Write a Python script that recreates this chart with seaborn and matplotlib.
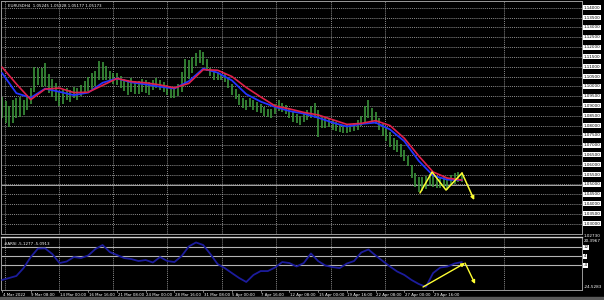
import numpy as np
import pandas as pd
import matplotlib
matplotlib.use("Agg")
import matplotlib.pyplot as plt
import seaborn as sns
from matplotlib.transforms import blended_transform_factory
from matplotlib.patches import Rectangle

# ---------------- data ----------------
# H4 bars, sampled every 2 bars
bar_high = [1.0945, 1.0925, 1.0899, 1.0930, 1.0940, 1.0945, 1.0930, 1.0956, 1.0991, 1.1098,
            1.1093, 1.1093, 1.1119, 1.1063, 1.1037, 1.1017, 1.0976, 1.0981, 1.0991, 1.0981,
            1.0996, 1.0991, 1.1007, 1.1027, 1.1047, 1.1068, 1.1078, 1.1129, 1.1124, 1.1103,
            1.1078, 1.1068, 1.1068, 1.1052, 1.1037, 1.1032, 1.1042, 1.1027, 1.1027, 1.1037,
            1.1032, 1.1022, 1.1032, 1.1042, 1.1032, 1.1022, 1.1007, 1.0996, 1.0991, 1.1012,
            1.1073, 1.1139, 1.1134, 1.1149, 1.1170, 1.1185, 1.1175, 1.1139, 1.1093, 1.1073,
            1.1068, 1.1063, 1.1063, 1.1047, 1.1012, 1.0986, 1.0961, 1.0940, 1.0930, 1.0940,
            1.0930, 1.0920, 1.0910, 1.0894, 1.0884, 1.0884, 1.0910, 1.0930, 1.0915, 1.0905,
            1.0889, 1.0869, 1.0859, 1.0848, 1.0869, 1.0879, 1.0899, 1.0915, 1.0879, 1.0843,
            1.0838, 1.0833, 1.0828, 1.0818, 1.0808, 1.0797, 1.0803, 1.0808, 1.0813, 1.0828,
            1.0848, 1.0899, 1.0930, 1.0889, 1.0869, 1.0838, 1.0808, 1.0787, 1.0767, 1.0736,
            1.0726, 1.0706, 1.0675, 1.0644, 1.0599, 1.0558, 1.0537, 1.0537, 1.0542, 1.0553,
            1.0548, 1.0542, 1.0532, 1.0542, 1.0532, 1.0548, 1.0558, 1.0563, 1.0553]
bar_low = [1.0838, 1.0813, 1.0792, 1.0813, 1.0838, 1.0843, 1.0854, 1.0879, 1.0910, 1.0971,
           1.1007, 1.0996, 1.1001, 1.0966, 1.0945, 1.0925, 1.0899, 1.0910, 1.0930, 1.0920,
           1.0940, 1.0930, 1.0950, 1.0966, 1.0976, 1.0986, 1.1001, 1.1032, 1.1032, 1.1032,
           1.1022, 1.1012, 1.1007, 1.0991, 1.0976, 1.0956, 1.0971, 1.0961, 1.0961, 1.0971,
           1.0966, 1.0956, 1.0981, 1.0991, 1.0981, 1.0971, 1.0956, 1.0940, 1.0940, 1.0950,
           1.0971, 1.1012, 1.1037, 1.1068, 1.1103, 1.1119, 1.1109, 1.1078, 1.1052, 1.1032,
           1.1032, 1.1032, 1.1022, 1.0991, 1.0956, 1.0935, 1.0905, 1.0889, 1.0879, 1.0894,
           1.0879, 1.0869, 1.0864, 1.0848, 1.0843, 1.0838, 1.0859, 1.0874, 1.0869, 1.0859,
           1.0838, 1.0818, 1.0813, 1.0803, 1.0818, 1.0828, 1.0838, 1.0838, 1.0741, 1.0787,
           1.0787, 1.0792, 1.0777, 1.0772, 1.0767, 1.0762, 1.0762, 1.0767, 1.0772, 1.0777,
           1.0797, 1.0818, 1.0838, 1.0823, 1.0808, 1.0777, 1.0746, 1.0721, 1.0690, 1.0675,
           1.0665, 1.0639, 1.0619, 1.0593, 1.0532, 1.0486, 1.0461, 1.0466, 1.0476, 1.0491,
           1.0486, 1.0481, 1.0481, 1.0486, 1.0471, 1.0491, 1.0502, 1.0512, 1.0512]

# moving averages, sampled every 8 bars
ma_fast = [1.1068, 1.0965, 1.0942, 1.0988, 1.0972, 1.0955, 1.0968, 1.1018, 1.1040, 1.1020,
           1.1010, 1.0998, 1.0989, 1.1026, 1.1090, 1.1070, 1.1030, 1.0960, 1.0922, 1.0895,
           1.0874, 1.0861, 1.0840, 1.0815, 1.0795, 1.0808, 1.0815, 1.0780, 1.0720, 1.0620,
           1.0545, 1.0524, 1.0522]
ma_slow = [1.1098, 1.1012, 1.0932, 1.0986, 1.0991, 1.0968, 1.0970, 1.1005, 1.1040, 1.1024,
           1.1018, 1.1007, 1.0992, 1.1015, 1.1085, 1.1082, 1.1050, 1.0994, 1.0946, 1.0900,
           1.0885, 1.0867, 1.0854, 1.0830, 1.0806, 1.0811, 1.0825, 1.0800, 1.0735, 1.0645,
           1.0563, 1.0532, 1.0522]

# oscillator (#ARSI), sampled every 4 bars
osc = [-17.3, -15.5, -13.7, -6.6, 3.3, 10.9, 11.1, 6.0, -2.1, -0.7,
       3.3, 2.4, 4.7, 10.5, 14.1, 7.8, 5.1, 2.4, 1.5, -0.3,
       0.6, -1.6, 3.3, -0.3, -1.2, 4.2, 12.8, 16.4, 14.1, 6.0,
       -3.0, -6.6, -11.1, -15.5, -19.1, -12.8, -9.3, -9.3, -6.1, -1.2,
       -2.1, -5.2, -2.1, 6.5, -0.3, -4.3, -5.7, -6.6, -2.5, -0.3,
       7.4, 10.1, 4.7, -0.3, -5.2, -9.7, -12.8, -17.3, -20.9, -23.5,
       -11.1, -6.1, -5.2, -2.5, -1.2]
osc_levels = [12, 4, -4]
osc_level_labels = ["12", "4", "-4"]

# hand-drawn yellow lines
yel_bar = [232.7, 239.4, 247.2, 256.1, 262.9]
yel_price = [1.0456, 1.0563, 1.0471, 1.0558, 1.0420]
yel_sub_bar = [234.4, 257.8, 263.4]
yel_sub_val = [-23.6, -2.1, -20.9]

bid_price = 1.0497
header = "EURUSDH4  1.05245 1.05328 1.05177 1.05173"
sub_header = "#ARSI -5.1277 -5.0913"
sub_max_label = "20.3967"
sub_min_label = "-24.5283"
main_min_label = "1.02730"

time_labels = ["4 Mar 2022", "9 Mar 08:00", "14 Mar 00:00", "16 Mar 16:00", "21 Mar 08:00",
               "24 Mar 00:00", "28 Mar 16:00", "31 Mar 08:00", "5 Apr 00:00", "7 Apr 16:00",
               "12 Apr 08:00", "15 Apr 00:00", "19 Apr 16:00", "22 Apr 08:00", "27 Apr 00:00",
               "29 Apr 16:00"]

# ---------------- style ----------------
sns.set_style("dark", rc={"axes.facecolor": "black", "figure.facecolor": "black"})
plt.rcParams["font.family"] = ["DejaVu Sans"]

W, H = 604, 300
fig = plt.figure(figsize=(W / 100, H / 100), dpi=100)
fig.patch.set_facecolor("black")

def fbox(x0, y0, x1, y1):
    return [x0 / W, 1 - y1 / H, (x1 - x0) / W, (y1 - y0) / H]

ax = fig.add_axes(fbox(1, 1, 582, 234))
axs = fig.add_axes(fbox(1, 237, 582, 290), sharex=ax)

XL = (-0.56, 322.9)
GREEN = "#3d9a3d"
BLUE = "#2233ff"
RED = "#e0204a"
YEL = "#ffff33"
GRID = "#bdbdbd"

bar_idx = np.arange(len(bar_high)) * 2
ma_idx = np.arange(len(ma_fast)) * 8
osc_idx = np.arange(len(osc)) * 4
df_ma = pd.DataFrame({"bar": ma_idx, "fast": ma_fast, "slow": ma_slow})
df_osc = pd.DataFrame({"bar": osc_idx, "osc": osc})

vgrid = [1.7, 31.7, 61.8, 91.9, 122.5, 152.6, 183.2, 213.2, 279.5]
hgrid = np.round(np.arange(1.030, 1.1401, 0.005), 3)

for a in (ax, axs):
    a.set_facecolor("black")
    a.set_xlim(*XL)
    a.tick_params(left=False, bottom=False, labelleft=False, labelbottom=False)
    a.grid(False)
    for s in a.spines.values():
        s.set_color("#9a9a9a")
        s.set_linewidth(0.7)
    for v in vgrid:
        a.axvline(v, color=GRID, lw=0.5, ls=(0, (1.5, 1.5)), zorder=0)

ax.set_ylim(1.0247, 1.1435)
for p in hgrid:
    ax.axhline(p, color=GRID, lw=0.5, ls=(0, (1.5, 1.5)), zorder=0)

# price bars
ax.vlines(bar_idx, bar_low, bar_high, color=GREEN, lw=1.15, zorder=2)
ax.axhline(bid_price, color="#a8a8a8", lw=0.7, zorder=1)

sns.lineplot(data=df_ma, x="bar", y="fast", ax=ax, color=BLUE, lw=1.3,
             estimator=None, sort=False, zorder=3)
sns.lineplot(data=df_ma, x="bar", y="slow", ax=ax, color=RED, lw=1.2,
             estimator=None, sort=False, zorder=4)

ax.plot(yel_bar[:-1], yel_price[:-1], color=YEL, lw=1.1, zorder=5)
ax.annotate("", xy=(yel_bar[-1], yel_price[-1]), xytext=(yel_bar[-2], yel_price[-2]),
            arrowprops=dict(arrowstyle="-|>", color=YEL, lw=1.1, mutation_scale=5,
                            shrinkA=0, shrinkB=0), zorder=5)
ax.set_xlabel("")
ax.set_ylabel("")

# sub window
axs.set_ylim(-26.3, 21.3)
for lv in osc_levels:
    axs.axhline(lv, color="#b4b4b4", lw=0.8, zorder=1)
sns.lineplot(data=df_osc, x="bar", y="osc", ax=axs, color="#1c1c9c", lw=1.3,
             estimator=None, sort=False, zorder=3)
axs.annotate("", xy=(yel_sub_bar[1], yel_sub_val[1]), xytext=(yel_sub_bar[0], yel_sub_val[0]),
             arrowprops=dict(arrowstyle="-|>", color=YEL, lw=1.0, mutation_scale=5,
                             shrinkA=0, shrinkB=0), zorder=5)
axs.annotate("", xy=(yel_sub_bar[2], yel_sub_val[2]), xytext=(yel_sub_bar[1], yel_sub_val[1]),
             arrowprops=dict(arrowstyle="-|>", color=YEL, lw=1.0, mutation_scale=5,
                             shrinkA=0, shrinkB=0), zorder=5)
axs.set_xlabel("")
axs.set_ylabel("")
axs.spines["top"].set_color("#d0d0d0")
axs.spines["top"].set_linewidth(1.0)

# texts
ax.text(0.012, 0.985, header, transform=ax.transAxes, fontsize=2.9, color="white",
        va="top", ha="left")
axs.text(0.006, 0.9, sub_header, transform=axs.transAxes, fontsize=2.9, color="white",
         va="top", ha="left")

tr_main = blended_transform_factory(ax.transAxes, ax.transData)
for p in hgrid:
    ax.text(1.003, p, f"{p:.5f}", transform=tr_main, fontsize=3.0, color="black",
            va="center", ha="left", clip_on=False,
            bbox=dict(boxstyle="square,pad=0.12", fc="white", ec="none"))

tr_sub = blended_transform_factory(axs.transAxes, axs.transData)
for lv, lab in zip(osc_levels, osc_level_labels):
    axs.text(1.003, lv, lab, transform=tr_sub, fontsize=3.0, color="black",
             va="center", ha="left", clip_on=False,
             bbox=dict(boxstyle="square,pad=0.12", fc="white", ec="none"))
fig.text(584 / W, 1 - 236 / H, main_min_label, fontsize=3.0, color="white", va="center")
fig.text(584 / W, 1 - 240.5 / H, sub_max_label, fontsize=3.0, color="white", va="center")
fig.text(584 / W, 1 - 287 / H, sub_min_label, fontsize=3.0, color="white", va="center")

tr_time = blended_transform_factory(axs.transData, axs.transAxes)
for j, lab in enumerate(time_labels):
    xb = 16 * j
    axs.plot([xb, xb], [0, -0.04], transform=tr_time, color="#bbbbbb", lw=0.5, clip_on=False)
    axs.text(xb + 0.3, -0.06, lab, transform=tr_time, fontsize=2.8, color="white",
             va="top", ha="left", clip_on=False)

fig.patches.append(Rectangle((0, 0), 1, 3 / H, transform=fig.transFigure,
                             color="#5a5a5a", zorder=-1))

fig.savefig("out.png", dpi=100, facecolor="black")
